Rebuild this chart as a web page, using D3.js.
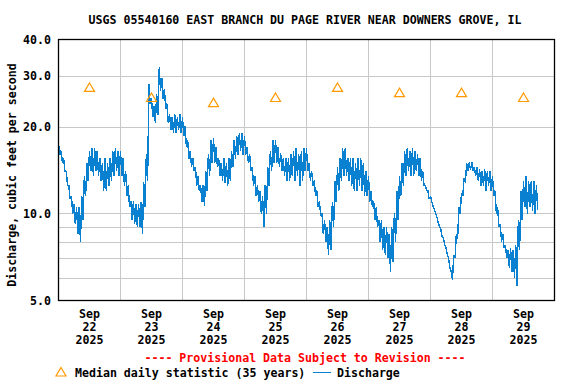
<!DOCTYPE html>
<html>
<head>
<meta charset="utf-8">
<script src="https://cdn.jsdelivr.net/npm/d3@7/dist/d3.min.js"></script>
<style>
  body { margin: 0; background: #fff; }
  svg text { font-family: "DejaVu Sans Mono", monospace; font-weight: bold; font-size: 11.6px; }
</style>
</head>
<body>
<div id="chart"></div>
<script>
// data
const startDate = Date.UTC(2025, 8, 22);
const dayLabels = ["22", "23", "24", "25", "26", "27", "28", "29"];
const medianValues = [27.3, 25.2, 24.2, 25.2, 27.3, 26.2, 26.2, 25.2];
const yTickValues = [5, 10, 20, 30, 40];
const yGridValues = [6, 7, 8, 9, 10, 20, 30];

// hourly discharge, upper and lower edge of the noisy trace (cfs), from Sep 22 00:00
const dischargeHi = [
  17.5, 16.5, 15.5, 14, 12.5, 11.5, 10.8, 10.5, 10.5, 11.5, 13.5, 15,
  16.5, 16.8, 16.8, 16.5, 15.5, 15, 15.5, 15, 15.5, 16.5, 16.8, 16.5,
  16.5, 15.5, 14, 12.5, 11, 11, 10.8, 10.8, 11, 12.8, 16, 28,
  25, 23.5, 26, 32, 29.5, 27, 24, 22, 21.5, 22, 21.5, 22,
  21.5, 20, 18, 16.5, 15.5, 14.5, 13.5, 12.5, 12.5, 14, 16, 18,
  18.2, 17, 15.5, 15, 15.5, 15, 15.5, 16.5, 18, 18.5, 19, 19,
  18.5, 17, 16, 14.5, 13.5, 12.5, 12, 11.5, 12.5, 14.5, 16.5, 18,
  18, 17, 16.2, 15.5, 15.5, 15.5, 16, 16.5, 16.8, 16, 16.5, 16.8,
  16.8, 15, 14, 13, 12, 11, 10, 9.5, 9, 9.5, 11, 13,
  14.5, 15.5, 16.8, 16.8, 15.5, 15.5, 15.5, 15, 15.5, 15.5, 15, 14,
  13.5, 12, 11, 10.5, 9.5, 9.5, 9, 9, 8.5, 9, 10, 12,
  13.5, 15, 16.5, 16.8, 16.5, 16.8, 16.5, 16, 15.5, 14, 12.5, 12,
  11.5, 10.6, 10, 9.3, 8.8, 8.2, 7.6, 7, 6.3, 7.2, 8.5, 10.5,
  11.8, 13.3, 15, 15, 15, 14.5, 14.5, 14.2, 14, 14.2, 14, 14,
  13.5, 12, 10.5, 9.2, 8.5, 7.8, 7.5, 7.6, 7.5, 7.8, 9.5, 12,
  13, 13.5, 13, 13, 13, 12.5
];
const dischargeLo = [
  16, 15, 14, 12.5, 11.2, 10, 9.2, 8.5, 8, 9.5, 11.5, 13,
  14, 13.5, 14, 13.5, 13, 12, 12, 12.5, 13, 13.5, 14, 13.5,
  13.5, 12.5, 11.5, 10.5, 9.5, 9.2, 9, 9, 8.5, 10.5, 13, 24,
  21.5, 20.5, 22, 26.5, 25, 23, 20.5, 19.5, 19, 19, 19.5, 19,
  18.5, 17, 15.5, 14.5, 14, 12.5, 12, 11, 10.6, 12, 13.5, 15,
  15, 14.5, 13.5, 13, 12.8, 12.5, 13, 14.5, 15.5, 16, 16.5, 16,
  16, 15, 14, 12.5, 11.5, 11, 10, 9, 10, 12.5, 14, 15,
  15, 14.5, 14, 13.5, 13, 13, 13.5, 13, 13.5, 12.5, 13, 14,
  14, 13, 12.5, 11.5, 10.5, 9.8, 8.5, 8, 7.2, 7.5, 9, 11,
  12, 13, 13.5, 13.5, 13, 12.5, 12, 12, 12.5, 12, 11.5, 11.5,
  11, 10.5, 9.5, 9, 8, 7.5, 7.2, 7, 6.3, 6.8, 8, 9.5,
  11.5, 12.5, 13.5, 14, 13.5, 13.5, 14, 13.5, 13, 12.5, 12, 11.2,
  11, 10.3, 9.7, 9, 8.3, 7.8, 7.2, 6.5, 5.9, 7, 8.2, 10,
  11.5, 12.8, 14, 14.2, 14, 13.5, 13, 12.5, 12.5, 12, 12.5, 12,
  11.5, 10, 9, 8, 7.6, 7, 6.5, 6.3, 6, 5.6, 7.5, 9.5,
  10.5, 10, 10.5, 10.2, 10, 10.3
];

const width = 576, height = 384;
const margin = { left: 58.5, right: 554.5, top: 39.5, bottom: 300.5 };
const hour = 3600 * 1000;

const svg = d3.select("#chart").append("svg")
  .attr("width", width)
  .attr("height", height);

const x = d3.scaleUtc()
  .domain([new Date(startDate), new Date(startDate + 8 * 24 * hour)])
  .range([margin.left, margin.right]);
const y = d3.scaleLog()
  .domain([5, 40])
  .range([margin.bottom, margin.top]);

// gridlines
const grid = svg.append("g").attr("stroke", "#c8c8c8").attr("stroke-width", 1);
grid.selectAll("line.h")
  .data(yGridValues)
  .enter().append("line")
  .attr("x1", margin.left).attr("x2", margin.right)
  .attr("y1", d => Math.round(y(d)) + 0.5)
  .attr("y2", d => Math.round(y(d)) + 0.5);
grid.selectAll("line.v")
  .data(d3.range(1, 8))
  .enter().append("line")
  .attr("x1", d => x(new Date(startDate + d * 24 * hour)))
  .attr("x2", d => x(new Date(startDate + d * 24 * hour)))
  .attr("y1", margin.top).attr("y2", margin.bottom);

// discharge series: upper edge on the hour, lower edge on the half hour
const series = [];
dischargeHi.forEach((v, i) => {
  series.push({ t: new Date(startDate + i * hour), v: v });
  series.push({ t: new Date(startDate + i * hour + hour / 2), v: dischargeLo[i] });
});
const line = d3.line()
  .x(d => x(d.t))
  .y(d => y(d.v));
svg.append("path")
  .datum(series)
  .attr("d", line)
  .attr("fill", "none")
  .attr("stroke", "#0a80d0")
  .attr("stroke-width", 1.4)
  .attr("stroke-linejoin", "bevel")
  .attr("shape-rendering", "crispEdges");

// median markers
const tri = "M0,-4.5L5,4L-5,4Z";
svg.append("g")
  .selectAll("path")
  .data(medianValues)
  .enter().append("path")
  .attr("d", tri)
  .attr("transform", (d, i) => `translate(${x(new Date(startDate + (i * 24 + 12) * hour))},${y(d)})`)
  .attr("fill", "none")
  .attr("stroke", "#f90")
  .attr("stroke-width", 1.2);

// frame
svg.append("rect")
  .attr("x", margin.left).attr("y", margin.top)
  .attr("width", margin.right - margin.left)
  .attr("height", margin.bottom - margin.top)
  .attr("fill", "none")
  .attr("stroke", "#000")
  .attr("stroke-width", 1.3);

// y tick labels
svg.append("g")
  .selectAll("text")
  .data(yTickValues)
  .enter().append("text")
  .attr("x", 51)
  .attr("y", d => y(d) + 4)
  .attr("text-anchor", "end")
  .text(d => d3.format(".1f")(d));

// x tick labels
const xl = svg.append("g")
  .selectAll("text")
  .data(dayLabels)
  .enter().append("text")
  .attr("text-anchor", "middle")
  .attr("transform", (d, i) => `translate(${x(new Date(startDate + (i * 24 + 12) * hour))},0)`);
xl.append("tspan").attr("x", 0).attr("y", 318).text("Sep");
xl.append("tspan").attr("x", 0).attr("y", 331).text(d => d);
xl.append("tspan").attr("x", 0).attr("y", 344).text("2025");

// title
svg.append("text")
  .attr("x", 305).attr("y", 24)
  .attr("text-anchor", "middle")
  .text("USGS 05540160 EAST BRANCH DU PAGE RIVER NEAR DOWNERS GROVE, IL");

// y axis title
svg.append("text")
  .attr("transform", "translate(16,175) rotate(-90)")
  .attr("text-anchor", "middle")
  .text("Discharge, cubic feet per second");

// provisional note
svg.append("text")
  .attr("x", 305).attr("y", 362)
  .attr("text-anchor", "middle")
  .attr("fill", "#f00")
  .text("---- Provisional Data Subject to Revision ----");

// legend
svg.append("path")
  .attr("d", tri)
  .attr("transform", "translate(61,372)")
  .attr("fill", "none")
  .attr("stroke", "#f90")
  .attr("stroke-width", 1.2);
svg.append("text").attr("x", 75).attr("y", 377).text("Median daily statistic (35 years)");
svg.append("line")
  .attr("x1", 313).attr("x2", 331)
  .attr("y1", 372.5).attr("y2", 372.5)
  .attr("stroke", "#0a80d0");
svg.append("text").attr("x", 337).attr("y", 377).text("Discharge");
</script>
</body>
</html>
